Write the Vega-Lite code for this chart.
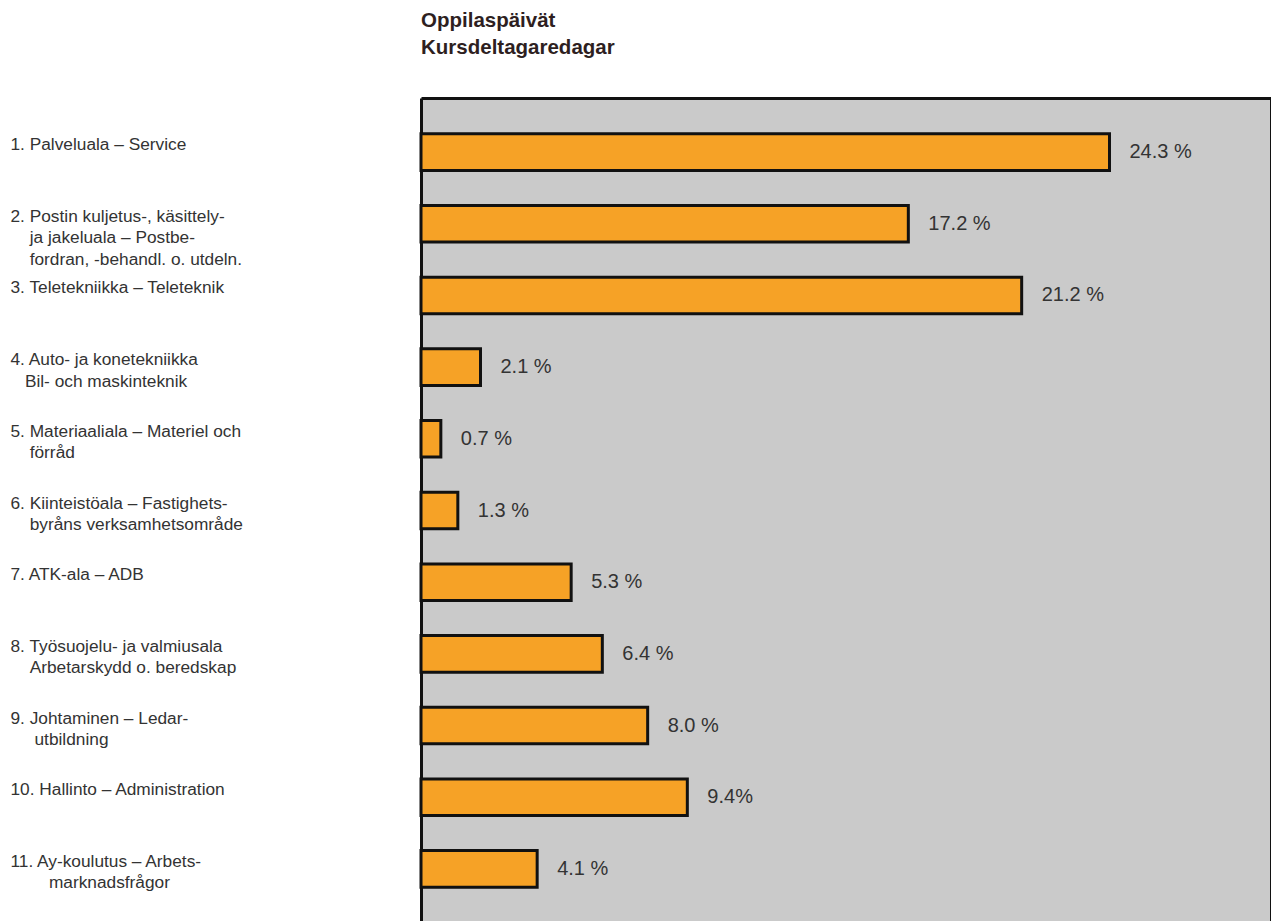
{
  "$schema": "https://vega.github.io/schema/vega-lite/v6.json",
  "autosize": "none",
  "padding": {"left": 421, "top": 98, "right": 0, "bottom": 0},
  "width": 850,
  "height": 825,
  "background": "#ffffff",
  "title": {
    "text": ["Oppilaspäivät", "Kursdeltagaredagar"],
    "anchor": "start",
    "frame": "group",
    "orient": "top",
    "font": "Liberation Sans",
    "fontSize": 20.5,
    "fontWeight": "bold",
    "color": "#2e1f1f",
    "lineHeight": 26.5,
    "baseline": "alphabetic",
    "offset": 23
  },
  "config": {
    "view": {"fill": "#cacaca", "stroke": null},
    "font": "Liberation Sans"
  },
  "data": {
    "values": [
      {"label": "1. Palveluala – Service", "value": 24.3, "pct": "24.3 %"},
      {"label": "2. Postin  kuljetus-,  käsittely-|\u200b\u00a0\u00a0\u00a0\u00a0ja jakeluala – Postbe-|\u200b\u00a0\u00a0\u00a0\u00a0fordran, -behandl. o. utdeln.", "value": 17.2, "pct": "17.2 %"},
      {"label": "3. Teletekniikka – Teleteknik", "value": 21.2, "pct": "21.2 %"},
      {"label": "4. Auto- ja konetekniikka|\u200b\u00a0\u00a0\u00a0Bil- och maskinteknik", "value": 2.1, "pct": "2.1 %"},
      {"label": "5. Materiaaliala – Materiel och|\u200b\u00a0\u00a0\u00a0\u00a0förråd", "value": 0.7, "pct": "0.7 %"},
      {"label": "6. Kiinteistöala  –  Fastighets-|\u200b\u00a0\u00a0\u00a0\u00a0byråns verksamhetsområde", "value": 1.3, "pct": "1.3 %"},
      {"label": "7. ATK-ala – ADB", "value": 5.3, "pct": "5.3 %"},
      {"label": "8. Työsuojelu- ja valmiusala|\u200b\u00a0\u00a0\u00a0\u00a0Arbetarskydd o. beredskap", "value": 6.4, "pct": "6.4 %"},
      {"label": "9. Johtaminen – Ledar-|\u200b\u00a0\u00a0\u00a0\u00a0\u00a0utbildning", "value": 8.0, "pct": "8.0 %"},
      {"label": "10. Hallinto – Administration", "value": 9.4, "pct": "9.4%"},
      {"label": "11. Ay-koulutus – Arbets-|\u200b\u00a0\u00a0\u00a0\u00a0\u00a0\u00a0\u00a0\u00a0marknadsfrågor", "value": 4.1, "pct": "4.1  %"}
    ]
  },
  "layer": [
    {
      "mark": {"type": "bar", "fill": "#f6a226", "stroke": "#111111", "strokeWidth": 3},
      "encoding": {
        "y": {
          "field": "label",
          "type": "nominal",
          "sort": null,
          "scale": {"paddingInner": 0.49, "paddingOuter": 0.5},
          "axis": {
            "title": null,
            "ticks": false,
            "grid": false,
            "domain": true,
            "domainColor": "#111111",
            "domainWidth": 3,
            "labelExpr": "split(datum.value, '|')",
            "labelAlign": "left",
            "labelBaseline": "alphabetic",
            "labelPadding": 411,
            "labelOffset": -2,
            "labelLineHeight": 21.5,
            "labelFont": "Liberation Sans",
            "labelFontSize": 17.3,
            "labelColor": "#333333",
            "labelLimit": 0
          }
        },
        "x": {
          "field": "value",
          "type": "quantitative",
          "scale": {"domain": [0, 30], "nice": false},
          "axis": {
            "orient": "top",
            "title": null,
            "labels": false,
            "ticks": false,
            "grid": false,
            "domain": true,
            "domainColor": "#111111",
            "domainWidth": 3
          }
        }
      }
    },
    {
      "mark": {"type": "text", "align": "left", "baseline": "middle", "dx": 20, "fontSize": 20, "color": "#333333", "font": "Liberation Sans"},
      "encoding": {
        "y": {"field": "label", "type": "nominal", "sort": null},
        "x": {"field": "value", "type": "quantitative"},
        "text": {"field": "pct", "type": "nominal"}
      }
    },
    {
      "mark": {"type": "rule", "color": "#111111", "strokeWidth": 2},
      "encoding": {
        "x": {"datum": 30}
      }
    }
  ]
}
